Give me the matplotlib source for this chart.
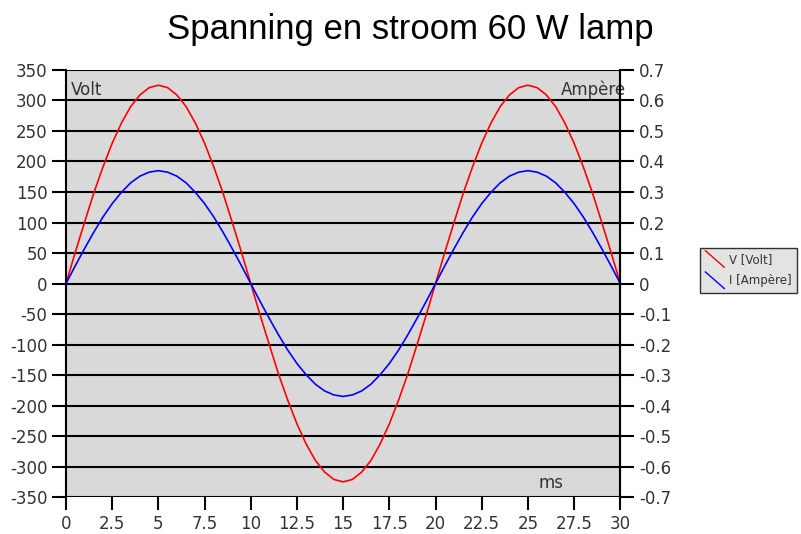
import matplotlib
matplotlib.use("Agg")
import matplotlib.pyplot as plt
from matplotlib.lines import Line2D
from matplotlib.legend_handler import HandlerLine2D

plt.rcParams['axes.unicode_minus'] = False
plt.rcParams['font.family'] = 'DejaVu Sans'

# time in ms, sampled every 0.5 ms
time_ms = [0, 0.5, 1, 1.5, 2, 2.5, 3, 3.5, 4, 4.5, 5, 5.5, 6, 6.5, 7, 7.5, 8, 8.5, 9, 9.5,
           10, 10.5, 11, 11.5, 12, 12.5, 13, 13.5, 14, 14.5, 15, 15.5, 16, 16.5, 17, 17.5,
           18, 18.5, 19, 19.5, 20, 20.5, 21, 21.5, 22, 22.5, 23, 23.5, 24, 24.5, 25, 25.5,
           26, 26.5, 27, 27.5, 28, 28.5, 29, 29.5, 30]

volt = [0, 51, 100, 148, 191, 230, 263, 290, 309, 321, 325, 321, 309, 290, 263, 230, 191, 148, 100, 51,
        0, -51, -100, -148, -191, -230, -263, -290, -309, -321, -325, -321, -309, -290, -263, -230,
        -191, -148, -100, -51, 0, 51, 100, 148, 191, 230, 263, 290, 309, 321, 325, 321,
        309, 290, 263, 230, 191, 148, 100, 51, 0]

ampere = [0, 0.058, 0.114, 0.168, 0.218, 0.262, 0.299, 0.330, 0.352, 0.365, 0.370, 0.365, 0.352, 0.330,
          0.299, 0.262, 0.218, 0.168, 0.114, 0.058, 0, -0.058, -0.114, -0.168, -0.218, -0.262,
          -0.299, -0.330, -0.352, -0.365, -0.370, -0.365, -0.352, -0.330, -0.299, -0.262, -0.218,
          -0.168, -0.114, -0.058, 0, 0.058, 0.114, 0.168, 0.218, 0.262, 0.299, 0.330, 0.352,
          0.365, 0.370, 0.365, 0.352, 0.330, 0.299, 0.262, 0.218, 0.168, 0.114, 0.058, 0]

x_ticks = [0, 2.5, 5, 7.5, 10, 12.5, 15, 17.5, 20, 22.5, 25, 27.5, 30]
x_labels = ['0', '2.5', '5', '7.5', '10', '12.5', '15', '17.5', '20', '22.5', '25', '27.5', '30']
volt_ticks = list(range(-350, 351, 50))
amp_ticks = [-0.7, -0.6, -0.5, -0.4, -0.3, -0.2, -0.1, 0, 0.1, 0.2, 0.3, 0.4, 0.5, 0.6, 0.7]
amp_labels = ['-0.7', '-0.6', '-0.5', '-0.4', '-0.3', '-0.2', '-0.1', '0',
              '0.1', '0.2', '0.3', '0.4', '0.5', '0.6', '0.7']

text_col = '#333333'


class DiagonalHandler(HandlerLine2D):
    # legend key drawn as a short falling diagonal, like the original chart
    def create_artists(self, legend, orig_handle, xdescent, ydescent,
                       width, height, fontsize, trans):
        line = Line2D([0, width], [height + 3, -3],
                      color=orig_handle.get_color(), lw=1.0)
        line.set_transform(trans)
        return [line]


fig = plt.figure(figsize=(8.01, 5.34), dpi=100)
ax = fig.add_axes([0.0824, 0.069, 0.692, 0.800])
ax.set_facecolor('#d9d9d9')

ax.plot(time_ms, volt, color='#ff0000', lw=1.2, label='V [Volt]')
ax.set_xlim(0, 30)
ax.set_ylim(-350, 350)
ax.set_xticks(x_ticks)
ax.set_xticklabels(x_labels)
ax.set_yticks(volt_ticks)
ax.yaxis.grid(True, color='black', lw=1.5)
ax.set_axisbelow(True)
for s in ['top', 'bottom']:
    ax.spines[s].set_visible(False)
for s in ['left', 'right']:
    ax.spines[s].set_linewidth(1.5)
ax.tick_params(axis='both', colors='black', labelcolor=text_col, labelsize=12,
               length=10, width=1.5)
ax.tick_params(axis='x', length=9, pad=4)

ax2 = ax.twinx()
ax2.plot(time_ms, ampere, color='#0000ff', lw=1.2, label='I [Ampère]')
ax2.set_ylim(-0.7, 0.7)
ax2.set_yticks(amp_ticks)
ax2.set_yticklabels(amp_labels)
for s in ['top', 'bottom', 'left']:
    ax2.spines[s].set_visible(False)
ax2.spines['right'].set_linewidth(1.5)
ax2.tick_params(axis='y', colors='black', labelcolor=text_col, labelsize=12,
                length=10, width=1.5)

ax.text(0.008, 0.975, 'Volt', transform=ax.transAxes, ha='left', va='top',
        fontsize=12, color=text_col)
ax.text(1.01, 0.975, 'Ampère', transform=ax.transAxes, ha='right', va='top',
        fontsize=12, color=text_col)
ax.text(0.875, 0.012, 'ms', transform=ax.transAxes, ha='center', va='bottom',
        fontsize=12, color=text_col)

fig.text(0.512, 0.945, 'Spanning en stroom 60 W lamp', ha='center', va='center',
         fontsize=25, family='Liberation Sans', color='black')

handles = ax.get_lines() + ax2.get_lines()
leg = fig.legend(handles, [h.get_label() for h in handles], loc='center left',
                 bbox_to_anchor=(0.874, 0.494), fontsize=8.5, frameon=True,
                 fancybox=False, handlelength=1.6, handletextpad=0.4,
                 borderpad=0.45, labelspacing=0.7, borderaxespad=0,
                 handler_map={Line2D: DiagonalHandler()})
leg.get_frame().set_edgecolor('black')
leg.get_frame().set_facecolor('#dddddd')
leg.get_frame().set_linewidth(1.0)
for t in leg.get_texts():
    t.set_color(text_col)

fig.savefig('out.png', dpi=100)
